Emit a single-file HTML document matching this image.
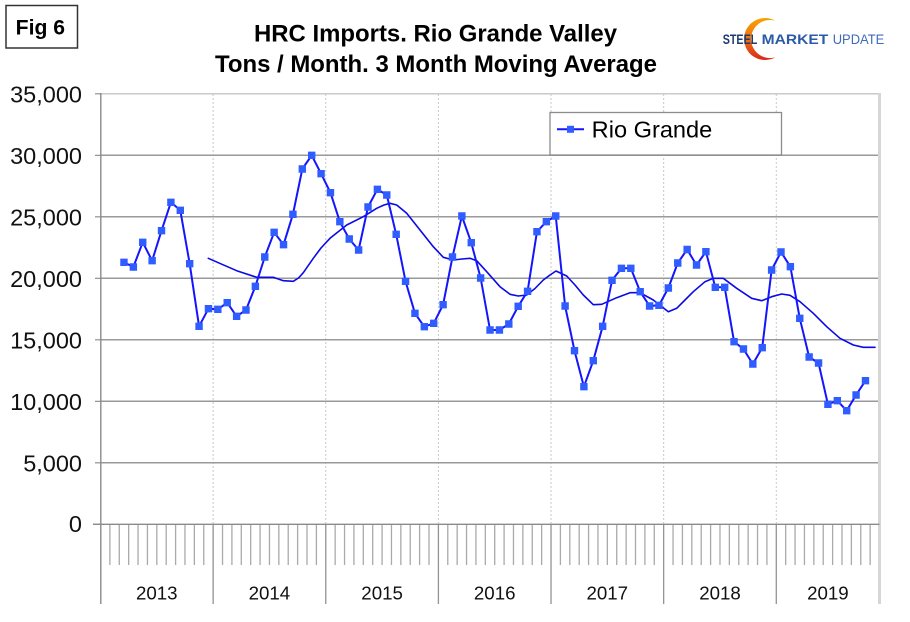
<!DOCTYPE html>
<html><head><meta charset="utf-8"><style>
html,body{margin:0;padding:0;background:#fff;}
svg{display:block;}
text{font-family:"Liberation Sans",Arial,sans-serif;}
</style></head><body>
<svg width="910" height="622" viewBox="0 0 910 622" xmlns="http://www.w3.org/2000/svg">
<defs>
<linearGradient id="sw" x1="0" y1="0" x2="0" y2="1">
<stop offset="0" stop-color="#f8a300"/><stop offset="0.55" stop-color="#ee6a10"/><stop offset="1" stop-color="#d8261c"/>
</linearGradient>
</defs>
<rect width="910" height="622" fill="#fff"/>

<!-- Fig 6 box -->
<rect x="6" y="5.5" width="71.5" height="42.5" fill="#fff" stroke="#333" stroke-width="1.5"/>
<text x="15.7" y="34.5" font-size="21" font-weight="bold" textLength="49.4" lengthAdjust="spacingAndGlyphs" fill="#000">Fig 6</text>

<!-- Title -->
<text x="254" y="41.5" font-size="24" font-weight="bold" textLength="363" lengthAdjust="spacingAndGlyphs" fill="#000">HRC Imports. Rio Grande Valley</text>
<text x="215" y="72" font-size="24" font-weight="bold" textLength="442" lengthAdjust="spacingAndGlyphs" fill="#000">Tons / Month. 3 Month Moving Average</text>

<!-- Logo -->
<path d="M775.5,20.8 A21,21 0 1 0 775.5,57.2 A19,19 0 1 1 775.5,20.8 Z" fill="url(#sw)"/>
<text x="722.7" y="44" font-size="14" font-weight="bold" textLength="34.6" lengthAdjust="spacingAndGlyphs" fill="#1d3a72">STEEL</text>
<text x="761.7" y="44" font-size="14" font-weight="bold" textLength="66.6" lengthAdjust="spacingAndGlyphs" fill="#2b5ba8">MARKET</text>
<text x="832.7" y="44" font-size="14" textLength="51.6" lengthAdjust="spacingAndGlyphs" fill="#3d6cb8">UPDATE</text>

<!-- vertical dotted year gridlines -->
<g stroke="#c8c8c8" stroke-width="1" stroke-dasharray="2,2">
<path d="M213.13,94V524 M325.76,94V524 M438.4,94V524 M551.03,94V524 M663.66,94V524 M776.29,94V524"/>
</g>
<!-- top border -->
<path d="M100.5,93.8H879.5" stroke="#c4c4c4" stroke-width="1.3"/>
<!-- horizontal gridlines -->
<g stroke="#9a9a9a" stroke-width="1.5">
<path d="M100.5,155.3H879.5 M100.5,216.8H879.5 M100.5,278.3H879.5 M100.5,339.8H879.5 M100.5,401.3H879.5 M100.5,462.8H879.5"/>
</g>
<!-- right border -->
<path d="M879.5,93V604" stroke="#d6d6d6" stroke-width="3"/>

<!-- y ticks -->
<path d="M95,93.8H101 M95,155.3H101 M95,216.8H101 M95,278.3H101 M95,339.8H101 M95,401.3H101 M95,462.8H101 M93,524.3H101" stroke="#8a8a8a" stroke-width="1.2"/>

<!-- month ticks -->
<path stroke="#aaaaaa" stroke-width="1.3" d="M109.89,524V565M119.27,524V565M128.66,524V565M138.04,524V565M147.43,524V565M156.82,524V565M166.2,524V565M175.59,524V565M184.97,524V565M194.36,524V565M203.75,524V565
M222.52,524V565M231.9,524V565M241.29,524V565M250.68,524V565M260.06,524V565M269.45,524V565M278.83,524V565M288.22,524V565M297.61,524V565M306.99,524V565M316.38,524V565
M335.15,524V565M344.54,524V565M353.92,524V565M363.31,524V565M372.69,524V565M382.08,524V565M391.47,524V565M400.85,524V565M410.24,524V565M419.62,524V565M429.01,524V565
M447.78,524V565M457.17,524V565M466.55,524V565M475.94,524V565M485.33,524V565M494.71,524V565M504.1,524V565M513.48,524V565M522.87,524V565M532.26,524V565M541.64,524V565
M560.41,524V565M569.8,524V565M579.19,524V565M588.57,524V565M597.96,524V565M607.34,524V565M616.73,524V565M626.12,524V565M635.5,524V565M644.89,524V565M654.27,524V565
M673.05,524V565M682.43,524V565M691.82,524V565M701.2,524V565M710.59,524V565M719.98,524V565M729.36,524V565M738.75,524V565M748.13,524V565M757.52,524V565M766.91,524V565
M785.68,524V565M795.06,524V565M804.45,524V565M813.84,524V565M823.22,524V565M832.61,524V565M841.99,524V565M851.38,524V565M860.77,524V565M870.15,524V565"/>
<!-- year separators -->
<path stroke="#939393" stroke-width="1.3" d="M213.13,524V604M325.76,524V604M438.4,524V604M551.03,524V604M663.66,524V604M776.29,524V604"/>
<!-- axes -->
<path d="M100.8,93V604" stroke="#8a8a8a" stroke-width="1.4"/>
<path d="M93,524.3H879.5" stroke="#8a8a8a" stroke-width="1.4"/>

<!-- y labels -->
<g font-size="23.5" fill="#111" text-anchor="end">
<text x="82" y="102.3">35,000</text>
<text x="82" y="163.8">30,000</text>
<text x="82" y="225.3">25,000</text>
<text x="82" y="286.8">20,000</text>
<text x="82" y="348.3">15,000</text>
<text x="82" y="409.8">10,000</text>
<text x="82" y="471.3">5,000</text>
<text x="82" y="532">0</text>
</g>

<!-- year labels -->
<g font-size="18.7" fill="#111" text-anchor="middle">
<text x="156.8" y="599.3">2013</text>
<text x="269.4" y="599.3">2014</text>
<text x="382.1" y="599.3">2015</text>
<text x="494.7" y="599.3">2016</text>
<text x="607.3" y="599.3">2017</text>
<text x="720" y="599.3">2018</text>
<text x="827.9" y="599.3">2019</text>
</g>

<!-- moving average -->
<polyline fill="none" stroke="#0a0ae6" stroke-width="1.6" stroke-linejoin="round" stroke-linecap="round" points="208.3,258.3 222,264.3 236.7,270.7 256.7,277.3 273.3,277.3 283.3,280.7 293.3,281.3 298.5,278 303.3,272.7 313.3,258.3 321,248 330,238.3 346.7,225 363.3,216.7 376.7,208.3 384,205 390,203.3 396.7,205 406.7,213.3 420,230 433.3,246.7 443.3,257.3 453.3,260 462,259 470,258.3 476.7,260.7 486.7,271.7 500,286.7 510,294.3 518.3,296 526.7,295 535,288.5 543.3,280 550,275 556,271 566.7,276 575,285 583.3,295 593.3,304.7 601.7,304.3 616.7,297.7 630,292.7 640,292.7 653.3,300 661,306 668.3,311.7 676.7,308.3 685,300 693.3,291.7 705,281.7 713.3,278.3 723.3,278.3 736.7,288.3 751.7,298.3 761.7,300.7 771.7,296.7 781.7,294 790,295.3 800,301.7 813.3,313.3 826.7,326.7 840,338.3 853.3,345 863.3,347.3 875,347.3"/>

<!-- data line -->
<polyline fill="none" stroke="#1414ff" stroke-width="2" stroke-linejoin="round" points="123.97,262.3 133.36,267 142.74,242.3 152.13,260.7 161.52,230.7 170.9,202.3 180.29,210.3 189.67,263.7 199.06,326.3 208.45,308.7 217.83,309.3 227.22,302.7 236.6,316.3 245.99,310 255.38,286.3 264.76,257 274.15,232.3 283.53,244.7 292.92,214.3 302.31,169 311.69,155.3 321.08,173.7 330.46,192.7 339.85,221.7 349.24,239 358.62,250 368.01,207 377.39,189.3 386.78,195 396.17,234.3 405.55,281.3 414.94,313.3 424.32,326.7 433.71,323.3 443.1,304.7 452.48,257 461.87,216 471.25,242.7 480.64,278 490.03,330 499.41,330 508.8,324 518.18,306.3 527.57,291.3 536.96,231.7 546.34,221.7 555.73,216 565.11,306 574.5,350.7 583.89,386.7 593.27,360.7 602.66,326.3 612.04,280.3 621.43,268.3 630.82,268.3 640.2,291.7 649.59,306 658.97,305.3 668.36,288 677.75,263 687.13,249.5 696.52,265 705.9,251.7 715.29,287.3 724.68,287.3 734.06,341.7 743.45,349 752.83,364 762.22,347.7 771.61,270 780.99,252 790.38,266.7 799.76,318.3 809.15,357 818.54,363 827.92,404.3 837.31,400.7 846.69,410.7 856.08,395 865.47,380.7"/>

<!-- markers -->
<path fill="none" stroke="#2f5dff" stroke-width="7.4" stroke-linecap="square" d="M123.97,262.3h0.01M133.36,267h0.01M142.74,242.3h0.01M152.13,260.7h0.01M161.52,230.7h0.01M170.9,202.3h0.01M180.29,210.3h0.01M189.67,263.7h0.01M199.06,326.3h0.01M208.45,308.7h0.01M217.83,309.3h0.01M227.22,302.7h0.01M236.6,316.3h0.01M245.99,310h0.01M255.38,286.3h0.01M264.76,257h0.01M274.15,232.3h0.01M283.53,244.7h0.01M292.92,214.3h0.01M302.31,169h0.01M311.69,155.3h0.01M321.08,173.7h0.01M330.46,192.7h0.01M339.85,221.7h0.01M349.24,239h0.01M358.62,250h0.01M368.01,207h0.01M377.39,189.3h0.01M386.78,195h0.01M396.17,234.3h0.01M405.55,281.3h0.01M414.94,313.3h0.01M424.32,326.7h0.01M433.71,323.3h0.01M443.1,304.7h0.01M452.48,257h0.01M461.87,216h0.01M471.25,242.7h0.01M480.64,278h0.01M490.03,330h0.01M499.41,330h0.01M508.8,324h0.01M518.18,306.3h0.01M527.57,291.3h0.01M536.96,231.7h0.01M546.34,221.7h0.01M555.73,216h0.01M565.11,306h0.01M574.5,350.7h0.01M583.89,386.7h0.01M593.27,360.7h0.01M602.66,326.3h0.01M612.04,280.3h0.01M621.43,268.3h0.01M630.82,268.3h0.01M640.2,291.7h0.01M649.59,306h0.01M658.97,305.3h0.01M668.36,288h0.01M677.75,263h0.01M687.13,249.5h0.01M696.52,265h0.01M705.9,251.7h0.01M715.29,287.3h0.01M724.68,287.3h0.01M734.06,341.7h0.01M743.45,349h0.01M752.83,364h0.01M762.22,347.7h0.01M771.61,270h0.01M780.99,252h0.01M790.38,266.7h0.01M799.76,318.3h0.01M809.15,357h0.01M818.54,363h0.01M827.92,404.3h0.01M837.31,400.7h0.01M846.69,410.7h0.01M856.08,395h0.01M865.47,380.7h0.01"/>

<!-- legend -->
<rect x="550" y="112.5" width="231.5" height="42.5" fill="#fff" stroke="#8c8c8c" stroke-width="1.3"/>
<path d="M557,129.3H584" stroke="#1414ff" stroke-width="2"/>
<rect x="567" y="125.8" width="7" height="7" fill="#2f5dff"/>
<text x="591.7" y="137.5" font-size="23" textLength="120.6" lengthAdjust="spacingAndGlyphs" fill="#000">Rio Grande</text>
</svg>
</body></html>
